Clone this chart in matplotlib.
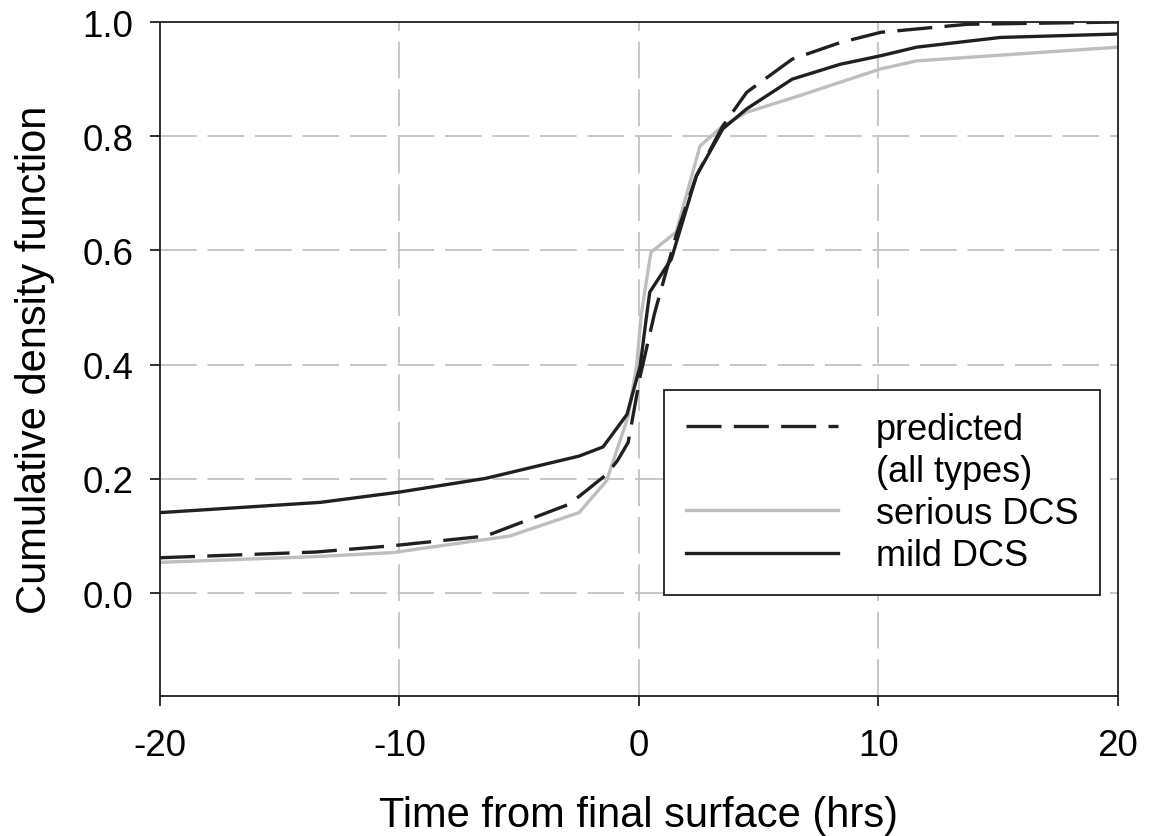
import matplotlib.pyplot as plt
from matplotlib.lines import Line2D

plt.rcParams['font.family'] = ['Liberation Sans', 'DejaVu Sans']

# Data
pred_x = [-20, -13.5, -10.3, -6.4, -2.9, -1.35, -0.9, -0.45, -0.2, 0.05, 0.65, 1.55, 2.4, 3.5, 4.5, 6.4, 8.4, 10.1, 13.7, 20]
pred_y = [0.062, 0.072, 0.083, 0.100, 0.156, 0.208, 0.232, 0.264, 0.322, 0.380, 0.490, 0.626, 0.731, 0.818, 0.877, 0.935, 0.964, 0.982, 0.996, 1.0]

serious_x = [-20, -13.5, -10.3, -5.4, -2.5, -1.35, -0.45, -0.1, 0.1, 0.5, 1.55, 2.55, 3.5, 4.5, 6.7, 10.1, 11.6, 20]
serious_y = [0.054, 0.064, 0.071, 0.100, 0.141, 0.197, 0.310, 0.398, 0.490, 0.597, 0.632, 0.783, 0.818, 0.842, 0.871, 0.918, 0.932, 0.956]

mild_x = [-20, -13.3, -10, -6.4, -2.5, -1.5, -0.5, 0.05, 0.3, 0.45, 1.35, 2.4, 3.5, 4.5, 6.4, 8.4, 10.1, 11.6, 15.1, 20]
mild_y = [0.141, 0.159, 0.177, 0.201, 0.240, 0.256, 0.313, 0.398, 0.480, 0.527, 0.585, 0.731, 0.813, 0.848, 0.900, 0.926, 0.941, 0.956, 0.973, 0.979]

xticks = [-20, -10, 0, 10, 20]
yticks = [0.0, 0.2, 0.4, 0.6, 0.8, 1.0]

dark = '#231f20'
grey = '#bebebe'
lw = 2.4
dash = (10.5, 3.7)

fig = plt.figure(figsize=(11.56, 8.37), dpi=100)
ax = fig.add_axes([0.1384, 0.1673, 0.8287, 0.8052])

# grid lines
for x in [-10, 0, 10]:
    ax.axvline(x, color=grey, lw=1.2, dashes=(22, 6.5), zorder=0)
for y in [0.0, 0.2, 0.4, 0.6, 0.8]:
    ax.axhline(y, color=grey, lw=1.2, dashes=(22, 6.5), zorder=0)

ax.plot(serious_x, serious_y, color=grey, lw=lw, zorder=2)
ax.plot(pred_x, pred_y, color=dark, lw=lw, dashes=dash, zorder=3)
ax.plot(mild_x, mild_y, color=dark, lw=lw, zorder=4)

ax.set_xlim(-20, 20)
ax.set_ylim(-0.18, 1.0)
ax.set_xticks(xticks)
ax.set_xticklabels([str(t) for t in xticks])
ax.set_yticks(yticks)
ax.set_yticklabels(['%.1f' % t for t in yticks])
ax.tick_params(direction='out', length=7, width=1.3, color=dark, labelsize=26.5, pad=12)
ax.tick_params(axis='x', pad=16)
for s in ax.spines.values():
    s.set_linewidth(1.3)
    s.set_color(dark)

ax.set_xlabel('Time from final surface (hrs)', fontsize=30, labelpad=23)
ax.set_ylabel('Cumulative density function', fontsize=30, labelpad=20)

handles = [
    Line2D([], [], color=dark, lw=lw, dashes=dash),
    Line2D([], [], color='none'),
    Line2D([], [], color=grey, lw=lw),
    Line2D([], [], color=dark, lw=lw),
]
labels = ['predicted', '(all types)', 'serious DCS', 'mild DCS']
leg = ax.legend(handles, labels, loc='lower right', bbox_to_anchor=(0.981, 0.150),
                fontsize=26, frameon=True, fancybox=False, framealpha=1,
                handlelength=4.2, handletextpad=1.05, labelspacing=0.2,
                borderpad=0.6, borderaxespad=0)
leg.get_frame().set_edgecolor(dark)
leg.get_frame().set_linewidth(1.3)

fig.savefig('out.png', dpi=100)
